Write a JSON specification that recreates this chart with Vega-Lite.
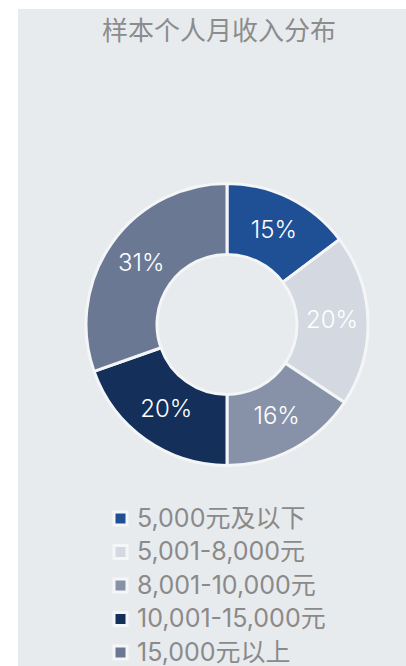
{
  "$schema": "https://vega.github.io/schema/vega-lite/v6.json",
  "autosize": {"type": "none"},
  "padding": {"left": 18, "top": 9, "right": 0, "bottom": 0},
  "width": 418,
  "height": 657,
  "background": "white",
  "view": {"fill": "#e8ebee", "stroke": null},
  "title": {
    "text": "样本个人月收入分布",
    "orient": "top",
    "anchor": "middle",
    "frame": "group",
    "baseline": "top",
    "offset": -36,
    "dx": -8,
    "font": "Noto Sans CJK SC",
    "fontSize": 26,
    "fontWeight": "normal",
    "color": "#8c8c8c"
  },
  "data": {
    "values": [
      {"k": 1, "category": "5,000元及以下", "value": 15, "label": "15%"},
      {"k": 2, "category": "5,001-8,000元", "value": 20, "label": "20%"},
      {"k": 3, "category": "8,001-10,000元", "value": 16, "label": "16%"},
      {"k": 4, "category": "10,001-15,000元", "value": 20, "label": "20%"},
      {"k": 5, "category": "15,000元以上", "value": 31, "label": "31%"}
    ]
  },
  "encoding": {
    "theta": {"field": "value", "type": "quantitative", "stack": true},
    "order": {"field": "k", "type": "quantitative"}
  },
  "layer": [
    {
      "mark": {"type": "arc", "innerRadius": 70, "outerRadius": 141, "stroke": "#f3f5f7", "strokeWidth": 3, "yOffset": -13},
      "encoding": {
        "color": {
          "field": "category",
          "type": "nominal",
          "scale": {
            "domain": ["5,000元及以下", "5,001-8,000元", "8,001-10,000元", "10,001-15,000元", "15,000元以上"],
            "range": ["#1f5096", "#d4d8e0", "#8792a9", "#132f5a", "#6b7894"]
          },
          "legend": {
            "title": null,
            "orient": "none",
            "legendX": 90,
            "legendY": 497,
            "padding": 0,
            "symbolType": "square",
            "symbolSize": 169,
            "symbolStrokeColor": "#f5f6f8",
            "symbolStrokeWidth": 3,
            "labelFont": "Inter, Noto Sans CJK SC",
            "labelFontSize": 25,
            "labelColor": "#8a8a8a",
            "labelOffset": 4,
            "labelLimit": 400,
            "rowPadding": 7.5
          }
        }
      }
    },
    {
      "mark": {"type": "text", "radius": 105, "yOffset": -13, "font": "Inter, Noto Sans CJK SC", "fontSize": 24, "fontWeight": 300, "color": "white", "align": "center", "baseline": "middle"},
      "encoding": {
        "text": {"field": "label", "type": "nominal"}
      }
    }
  ]
}
